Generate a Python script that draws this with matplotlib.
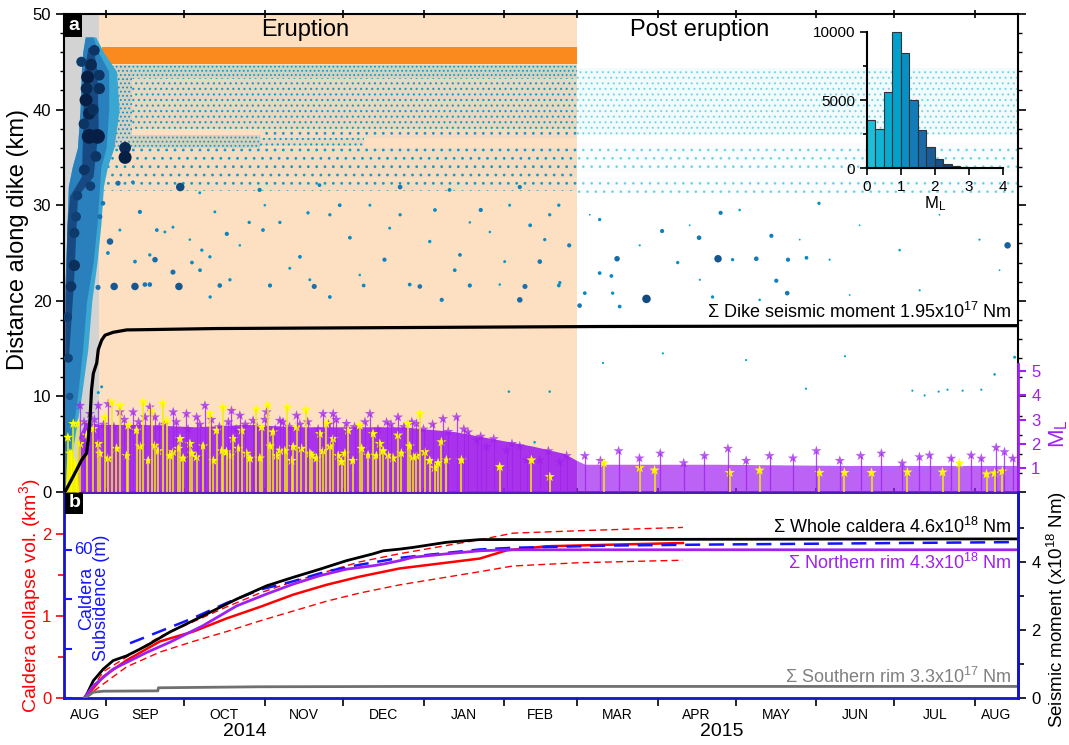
import numpy as np
import matplotlib.pyplot as plt
from matplotlib.colors import LinearSegmentedColormap, Normalize, to_rgba
from matplotlib.transforms import blended_transform_factory

plt.rcParams['font.family'] = ['Liberation Sans', 'DejaVu Sans']
plt.rcParams['mathtext.fontset'] = 'custom'
plt.rcParams['mathtext.rm'] = 'Liberation Sans'
plt.rcParams['mathtext.it'] = 'Liberation Sans:italic'
plt.rcParams['hatch.linewidth'] = 0.8

# time axis: days since 2014-08-16
T0 = np.datetime64('2014-08-16')
month_starts = ['2014-09-01', '2014-10-01', '2014-11-01', '2014-12-01',
                '2015-01-01', '2015-02-01', '2015-03-01', '2015-04-01',
                '2015-05-01', '2015-06-01', '2015-07-01', '2015-08-01']
month_names = ['AUG', 'SEP', 'OCT', 'NOV', 'DEC', 'JAN', 'FEB',
               'MAR', 'APR', 'MAY', 'JUN', 'JUL', 'AUG']
years = ['2014', '2015']
year_day = [69.3, 252.6]
x_end = 366.5
dike_end = 13.3
eruption_end = 197.0

# seismicity density bands (distance along dike)
band_day0 = [13.0, 26.0, 26.0, 13.0, 75.0, 14.0, 75.0, 14.0, 197.0, 197.0, 197.0]
band_day1 = [26.0, 197.0, 197.0, 75.0, 115.0, 197.0, 197.0, 197.0, 366.5, 366.5, 366.5]
band_km0 = [37.3, 43.3, 38.0, 36.0, 36.2, 32.8, 37.0, 31.5, 37.3, 33.5, 31.3]
band_km1 = [44.7, 44.7, 43.3, 37.3, 37.0, 36.0, 38.0, 32.5, 44.3, 36.5, 33.0]
band_density = [3, 3, 2, 3, 2, 1, 1, 1, 2, 1, 1]
band_ml = [1.2, 1.0, 1.0, 1.0, 1.0, 1.0, 1.0, 1.0, 0.3, 0.3, 0.3]

# dike intrusion cloud outline
cloud_km = [0, 5, 10, 15, 20, 24, 28, 32, 34, 36, 40, 44, 46, 47.6]
cloud_left = [0, 0, 0, 0, 0, 0.5, 1, 1.5, 3, 5, 6, 6.5, 7, 8]
cloud_right = [0.8, 2.5, 5, 7, 8.5, 11, 12.5, 13.5, 14, 16, 17, 17, 13, 11]
halo_right = [1.5, 3.5, 6.5, 9, 10.5, 12.5, 14, 15, 16.5, 19, 21, 20, 15, 12]
core_km = [14, 18, 22, 28, 31, 33, 38, 44, 46.5]
core_left = [0.2, 0.3, 0.5, 1, 2, 6.5, 7, 7.5, 9]
core_right = [1.5, 2.5, 3.5, 4.5, 5, 11, 13, 12.5, 11]

# individual events (day, distance km, ML)
dot_day = [9.5, 12.7, 8.9, 8.5, 8.3, 11.5, 13.4, 13.4, 7.6, 10.2, 9.5, 12.1, 4.5, 3.8,
           3.8, 1.1, 1.5, 2.0, 2.5, 5.0, 10.0, 6.5, 11.0, 7.5, 23.3, 23.3, 44.5,
           20.6, 26.3, 29.0, 17.5, 35.5, 41.7, 52.0, 62.4, 76.3, 93.6, 14.8, 13.6,
           19.1, 27.1, 44.0, 30.9, 32.8, 12.9, 16.7, 34.8, 41.7, 49.0, 52.8, 55.9,
           14.3, 13.0, 59.7, 79.0, 96.0, 115.0, 136.6, 155.8, 177.0, 190.0, 145.0,
           175.0, 102.0, 56.0, 90.5, 123.0, 152.0, 182.7, 194.0, 71.0, 105.8, 129.0,
           160.0, 179.0, 190.0, 75.0, 98.0, 129.0, 148.0, 175.0, 170.8, 180.7, 186.5,
           32.8, 38.6, 52.1, 67.4, 82.8, 86.6, 109.7, 113.5, 125.0, 140.4, 150.0,
           163.5, 169.2, 184.6, 57.8, 77.0, 102.0, 117.4, 142.4, 155.8, 171.1, 186.5,
           21.3, 27.1, 48.2, 63.6, 94.3, 132.7, 167.3, 190.4,
           223.7, 251.2, 212.4, 243.9, 252.2, 273.6, 277.8, 229.7, 271.7, 265.9, 278.1,
           210.2, 200.0, 198.0, 213.4, 290.0, 205.7, 205.7, 235.7, 256.8, 285.2, 249.1,
           210.7, 362.5, 325.9, 330.6, 336.0, 339.4, 345.2, 352.4, 357.5, 365.2, 207.0,
           230.0, 262.0, 300.0, 285.0, 201.9, 221.1, 240.3, 259.5, 282.6, 294.1, 305.6,
           321.0, 336.3, 351.7, 359.4, 244.2, 267.2, 301.8, 328.7]
dot_km = [37.2, 37.2, 43.4, 42.2, 41.0, 46.2, 42.2, 43.6, 33.7, 44.7, 39.6, 35.1, 28.8,
          27.1, 23.7, 18.3, 14.0, 10.0, 21.5, 31.0, 32.0, 45.0, 40.0, 38.5, 36.0, 35.0,
          31.9, 32.3, 32.4, 29.3, 26.2, 27.4, 27.7, 31.3, 27.0, 27.4, 29.2, 30.2, 28.8,
          21.5, 21.5, 21.5, 21.7, 21.7, 21.4, 25.0, 24.3, 23.0, 24.0, 25.3, 24.6, 11.0,
          10.4, 21.6, 21.6, 21.5, 21.6, 21.5, 21.6, 21.5, 21.6, 20.1, 20.1, 20.4, 20.4,
          24.6, 24.3, 24.8, 24.1, 25.8, 28.2, 30.0, 29.0, 29.5, 27.9, 30.0, 31.6, 32.1,
          31.9, 31.6, 31.9, 10.5, 5.2, 10.5,
          24.8, 27.2, 23.2, 25.8, 28.2, 23.4, 26.6, 22.7, 27.6, 26.2, 23.2, 27.2, 24.1,
          26.4, 29.3, 30.0, 29.0, 30.0, 29.5, 28.2, 30.0, 29.0, 27.4, 24.1, 26.4, 22.2,
          22.2, 21.7, 21.7, 21.9,
          20.2, 24.4, 24.4, 26.6, 29.2, 22.1, 20.8,
          27.3, 26.8, 24.4, 24.3, 22.6, 20.8, 19.5, 19.4, 30.2, 28.5, 22.9, 24.0, 24.3,
          24.5, 20.4, 20.8, 25.8, 10.6, 10.1, 10.5, 10.7, 10.6, 10.7, 12.3, 14.1, 13.5,
          14.5, 13.8, 14.2, 10.8, 29.0, 25.8, 27.9, 29.5, 26.4, 24.3, 27.9, 25.3, 29.0,
          26.4, 23.2, 22.2, 20.1, 20.6, 21.1]
dot_ml = [3.3, 3.3, 3.0, 2.8, 3.0, 2.6, 2.7, 2.6, 2.6, 2.8, 2.9, 2.6, 2.4, 2.5, 2.7,
          2.4, 2.3, 2.0, 2.6, 2.4, 2.4, 2.5, 2.7, 2.6, 2.8, 3.0, 2.2, 1.5, 1.2, 1.3, 1.8,
          1.2, 1.0, 1.0, 1.3, 1.2, 1.1, 1.4, 1.5, 2.0, 2.0, 2.0, 1.4, 1.4, 1.5, 1.2, 1.6,
          1.5, 1.2, 1.1, 1.1, 1.0, 1.0, 1.4, 1.3, 1.5, 1.2, 1.4, 1.3, 1.5, 1.2, 1.3, 1.6,
          1.2, 1.1, 1.2, 1.3, 1.2, 1.4, 1.3, 1.1, 1.2, 1.1, 1.3, 1.2, 1.1, 1.3, 1.2, 1.4,
          1.2, 1.3, 0.9, 0.9, 0.9,
          1.1, 1.0, 1.2, 0.9, 1.1, 1.0, 1.2, 0.9, 1.0, 1.1, 1.2, 0.9, 1.0, 1.1, 1.0, 0.9,
          1.1, 1.0, 1.2, 0.9, 1.0, 1.1, 1.0, 1.2, 0.9, 1.1, 1.0, 1.2, 0.9, 1.1,
          2.2, 2.0, 1.6, 1.4, 1.3, 1.3, 1.4, 1.3, 1.3, 1.4, 1.3,
          1.2, 1.2, 1.4, 1.2, 1.1, 1.1, 1.2, 1.1, 1.1, 1.2, 1.1, 1.1, 1.8, 0.8, 0.8, 0.8,
          0.8, 0.8, 0.8, 0.9, 1.0, 0.8, 0.8, 0.8, 0.8, 0.8, 0.7, 0.8, 0.7, 0.9, 0.7, 0.8,
          0.7, 0.9, 0.7, 0.8, 0.7, 0.8, 0.9, 0.7, 0.8]

# cumulative dike seismic moment (x1e17 Nm)
dike_day = [0.2, 4.0, 6.6, 8.5, 9.1, 9.8, 10.4, 11.1, 12.4, 13.0, 14.3, 15.6, 18.7,
            23.9, 34.8, 57.8, 205.7, 366.5]
dike_mo = [0, 0.22, 0.375, 0.454, 0.61, 0.844, 1.196, 1.39, 1.513, 1.67, 1.78, 1.838,
           1.872, 1.90, 1.905, 1.916, 1.94, 1.95]

# caldera earthquakes ML (stems)
env_day = [4.5, 5.5, 8, 14, 30, 50, 70, 90, 110, 130, 150, 165, 180, 192, 197, 200,
           250, 300, 366.5]
env_ml = [0, 2.3, 2.9, 2.8, 2.8, 2.7, 2.8, 2.7, 2.7, 2.7, 2.5, 2.2, 1.9, 1.6, 1.3, 1.15,
          1.15, 1.1, 1.1]
yel_env_day = [0.3, 0.8, 2.5, 4.5, 5.5]
yel_env_ml = [0, 1.4, 1.8, 1.2, 0]
purple_day = [6.0, 9.8, 13.0, 16.8, 21.3, 26.4, 32.8, 34.8, 41.8, 46.9, 50.8, 54.0,
              64.2, 67.4, 72.5, 77.7, 82.8, 89.2, 99.4, 103.3, 108.4, 117.4, 123.8,
              128.2, 135.3, 145.5, 150.7, 155.1, 158.4, 162.2, 169.9, 177.6, 182.7,
              190.4, 7.5, 11.5, 15, 19, 23, 25, 28.5, 31, 36.5, 38.5, 43, 47.5, 52,
              56.5, 59.5, 63, 66, 69.5, 74, 77, 81, 84, 86.5, 90.5, 93.5, 97.5, 101.5,
              104.5, 111.5, 115.5, 120.5, 125.5, 130.5, 133.5, 138, 141.5, 147.5,
              153.5, 160, 165, 172, 175, 186, 193, 200, 206, 213, 221, 229, 238, 246,
              255, 262, 271, 280, 289, 298, 306, 314, 322, 328.6, 332.5, 340.8, 348.5,
              352.4, 358.1, 361.3, 364.5]
purple_ml = [3.58, 3.24, 3.58, 3.65, 3.31, 3.31, 3.51, 3.10, 3.31, 3.24, 3.10, 3.58,
             3.37, 3.17, 2.96, 3.31, 2.96, 3.17, 3.24, 3.24, 2.83, 3.24, 2.89, 3.10,
             2.83, 3.03, 3.10, 2.48, 2.14, 1.87, 1.73, 1.32, 1.32, 1.25, 2.9, 3.0, 2.8,
             2.7, 3.0, 2.6, 2.9, 3.1, 2.7, 2.8, 2.9, 2.6, 2.8, 3.0, 2.7, 2.9, 2.6, 2.8,
             2.7, 3.0, 2.6, 2.9, 2.7, 2.8, 2.9, 2.6, 2.8, 3.0, 2.7, 2.9, 2.6, 2.8, 2.7,
             2.9, 2.6, 2.8, 2.5, 2.6, 2.3, 2.2, 2.0, 1.9, 1.7, 1.5, 1.5, 1.3, 1.7, 1.4,
             1.6, 1.2, 1.5, 1.8, 1.3, 1.5, 1.4, 1.7, 1.3, 1.5, 1.6, 1.19, 1.45, 1.52,
             1.39, 1.52, 1.39, 1.84, 1.66, 1.39]
yellow_day = [3.4, 8.5, 11.1, 13.0, 15.6, 18.1, 21.3, 24.5, 27.7, 30.3, 33.5, 34.8,
              37.7, 39.3, 41.8, 44.4, 48.2, 50.8, 55.9, 58.5, 61.0, 62.3, 64.8, 68.1,
              71.3, 73.8, 75.8, 78.1, 80.2, 82.8, 85.7, 87.9, 89.2, 92.8, 95.0, 98.2,
              100.7, 103.3, 106.5, 109.0, 113.5, 116.7, 118.6, 121.2, 124.4, 128.2,
              132.1, 134.0, 136.6, 138.5, 142.3, 144.9, 146.8, 152.6, 167.3, 179.5,
              186.5, 13.6, 16.8, 20.0, 23.9, 29.0, 32.2, 36.0, 40.5, 43.7, 45.6, 48.9,
              53.3, 57.2, 60.4, 63.6, 66.8, 70.0, 75.1, 79.0, 81.5, 84.7, 87.3, 91.1,
              94.3, 96.9, 99.4, 102.0, 105.2, 107.8, 110.9, 114.2, 119.9, 122.5, 126.3,
              129.5, 132.7, 135.3, 140.4, 143.6, 1.3, 5.3, 2.1, 6.0, 4.0, 207.3, 221.1,
              226.8, 255.7, 267.2, 290.2, 299.8, 310.2, 324.0, 337.5, 344.0, 354.4,
              357.5, 360.5]
yellow_ml = [2.83, 2.35, 2.62, 2.0, 3.1, 3.72, 3.58, 2.76, 2.55, 3.72, 3.37, 1.93, 3.68,
             2.96, 1.66, 2.21, 2.0, 1.45, 3.24, 2.55, 3.51, 1.66, 2.21, 2.55, 1.39, 3.44,
             2.69, 3.62, 2.48, 1.73, 3.51, 1.87, 2.69, 3.40, 1.52, 2.41, 2.83, 2.21,
             1.25, 2.55, 2.76, 1.52, 2.41, 2.0, 1.52, 2.35, 2.83, 1.45, 3.24, 1.66, 1.0,
             2.07, 1.32, 1.32, 1.04, 1.32, 0.63, 1.6, 1.4, 1.8, 1.5, 1.9, 1.3, 1.7, 1.5,
             1.8, 1.4, 1.6, 1.9, 1.3, 1.7, 1.5, 1.8, 1.6, 1.4, 1.9, 1.5, 1.7, 1.3, 1.8,
             1.6, 1.4, 1.7, 1.9, 1.5, 1.6, 1.3, 1.8, 1.5, 1.7, 1.4, 1.6, 1.9, 1.5, 1.3,
             1.2, 2.26, 2.84, 1.6, 2.0, 0.78, 1.2, 1.0, 0.9, 0.8, 0.9, 0.8, 0.8, 0.8,
             0.82, 0.82, 1.19, 0.74, 0.78, 0.86]

# ML histogram (inset)
hist_left = [0, 0.25, 0.5, 0.75, 1.0, 1.25, 1.5, 1.75, 2.0, 2.25, 2.5, 2.75, 3.0]
hist_count = [3540, 2850, 5610, 10000, 8460, 5000, 2800, 1540, 680, 290, 170, 70, 20]

# panel b: caldera
cal_day = [7.9, 11.1, 14.9, 18.7, 23.9, 31.6, 40.5, 53.3, 66.2, 77.7, 87.9, 98.2, 108.4,
           118.6, 122.5, 128.9, 134.0, 146.8, 159.6, 366.5]
cal_mo = [0, 0.51, 0.85, 1.10, 1.24, 1.54, 1.94, 2.42, 2.91, 3.30, 3.55, 3.79, 4.04,
          4.24, 4.33, 4.38, 4.43, 4.58, 4.66, 4.68]
north_day = [7.5, 11.1, 18.7, 31.6, 40.5, 53.3, 66.2, 77.7, 87.9, 98.2, 108.4, 118.6,
             122.5, 128.9, 134.0, 146.8, 159.6, 169.9, 366.5]
north_mo = [0, 0.36, 0.85, 1.34, 1.64, 2.13, 2.71, 3.06, 3.35, 3.60, 3.79, 3.89, 3.94,
            4.04, 4.14, 4.24, 4.33, 4.36, 4.36]
south_day = [7.9, 11.1, 14.9, 35.9, 36.1, 75.0, 130.0, 366.5]
south_mo = [0, 0.17, 0.20, 0.21, 0.30, 0.33, 0.34, 0.34]
vol_day = [7.9, 11.1, 14.9, 23.9, 36.7, 49.5, 62.3, 75.1, 87.9, 100.7, 113.5, 128.9,
           134.0, 159.6, 169.9, 185.2, 210.7, 237.7]
vol_mid = [0, 0.12, 0.26, 0.46, 0.69, 0.81, 0.97, 1.11, 1.26, 1.38, 1.48, 1.58, 1.60,
           1.70, 1.80, 1.85, 1.87, 1.89]
volb_day = [7.9, 11.1, 14.9, 23.9, 36.7, 49.5, 62.3, 75.1, 87.9, 100.7, 113.5, 128.9,
            159.6, 172.4, 198.0, 237.7]
vol_hi = [0, 0.14, 0.32, 0.50, 0.75, 0.93, 1.11, 1.28, 1.42, 1.54, 1.66, 1.76, 1.93,
          2.01, 2.04, 2.08]
vol_lo = [0, 0.08, 0.17, 0.38, 0.56, 0.69, 0.81, 0.94, 1.06, 1.18, 1.28, 1.38, 1.54,
          1.61, 1.65, 1.68]
sub_day = [25.2, 36.7, 49.5, 62.3, 75.1, 87.9, 100.7, 113.5, 128.9, 134.0, 159.6, 172.4,
           210.7, 249.1, 366.5]
sub_m = [22.2, 27.0, 32.4, 38.5, 43.9, 47.3, 51.3, 54.0, 56.8, 57.4, 60.2, 60.9, 61.8,
         62.2, 63.2]

purple = '#a020f0'
yellow = '#ffff00'
bblue = '#1414c8'
sblue = '#1414ff'
ml_cmap = LinearSegmentedColormap.from_list('ml', [
    (0.0, '#22c4d8'), (0.17, '#08b0d2'), (0.3, '#00a0cc'), (0.4, '#0a8ac4'),
    (0.5, '#1a70ae'), (0.67, '#17568f'), (0.83, '#0d3a6c'), (1.0, '#081f45')])
ml_norm = Normalize(0, 3)
ML_TXT = r'$\mathrm{M}_\mathrm{L}$'

mdays = (np.array(month_starts, dtype='datetime64[D]') - T0).astype(float)
edges = np.concatenate([[0], mdays, [x_end]])
mids = (edges[:-1] + edges[1:]) / 2

fig = plt.figure(figsize=(10.69, 7.45), dpi=100)
ax_a = fig.add_axes([0.0603, 0.3396, 0.8920, 0.6416])
ax_b = fig.add_axes([0.0603, 0.0631, 0.8920, 0.2765])
ax_ml = ax_a.twinx()
ax_dm = ax_a.twinx()
ax_bs = ax_b.twinx()
ax_bm = ax_b.twinx()

# ---------- panel a ----------
ax_a.axvspan(0, dike_end, color='#d3d3d3', lw=0, zorder=0)
ax_a.axvspan(dike_end, eruption_end, color='#fddfc1', lw=0, zorder=0)
ax_a.fill_between([14.5, eruption_end], 44.8, 46.6, color='#fb8a1e', lw=0, zorder=1)

hatch_for = {1: '..', 2: '...', 3: '....'}
tint_for = {1: 0.04, 2: 0.09, 3: 0.16}
for d0, d1, k0, k1, dens, ml in zip(band_day0, band_day1, band_km0, band_km1,
                                     band_density, band_ml):
    post = d0 >= eruption_end
    col = ml_cmap(ml_norm(ml))
    ax_a.fill_between([d0, d1], k0, k1, color=col,
                      alpha=tint_for[dens] * (0.6 if post else 1.0), lw=0, zorder=1.5)
    ax_a.fill_between([d0, d1], k0, k1, facecolor='none',
                      edgecolor=to_rgba(col, 0.45 if post else 0.9),
                      hatch=hatch_for[dens], linewidth=0, zorder=2)

ax_a.fill_betweenx(cloud_km, cloud_left, halo_right, color='#3aa6d2', lw=0, zorder=2.4)
ax_a.fill_betweenx(cloud_km, cloud_left, cloud_right, color='#2a80bc', lw=0, zorder=2.5)
ax_a.fill_betweenx(core_km, core_left, core_right, color='#174a82', lw=0, zorder=2.6)

dml = np.array(dot_ml)
ax_a.scatter(dot_day, dot_km, s=4.5 * dml ** 2.7, c=dml, cmap=ml_cmap, norm=ml_norm,
             edgecolors='none', zorder=3)

ax_a.set_xlim(0, x_end)
ax_a.set_ylim(0, 50)
ax_a.set_yticks(range(0, 51, 10))
ax_a.set_yticks(range(0, 51, 2), minor=True)
ax_a.tick_params(axis='y', which='both', left=True, right=True, direction='out',
                 labelsize=12, labelright=False)
ax_a.tick_params(axis='y', which='major', length=6, width=1.2)
ax_a.tick_params(axis='y', which='minor', length=3, width=1)
ax_a.set_xticks(mdays)
ax_a.tick_params(axis='x', top=True, bottom=True, labelbottom=False, labeltop=False,
                 length=6, width=1.2, direction='inout')
for s in ['top', 'left', 'right']:
    ax_a.spines[s].set_linewidth(1.5)
ax_a.spines['bottom'].set_visible(False)
ax_a.set_ylabel('Distance along dike (km)', fontsize=17)
ax_a.yaxis.set_label_coords(-0.037, 0.529)
ax_a.text(92.4, 48.3, 'Eruption', ha='center', va='center', fontsize=17, zorder=5)
ax_a.text(244, 48.3, 'Post eruption', ha='center', va='center', fontsize=17, zorder=5)
ax_a.text(0.004, 0.993, 'a', transform=ax_a.transAxes, ha='left', va='top',
          color='white', fontweight='bold', fontsize=14, zorder=6,
          bbox=dict(boxstyle='square,pad=0.15', fc='black', ec='none'))

# ML stems
env_d = np.array(env_day)
ax_ml.fill_between(env_day, 0, env_ml, where=env_d <= eruption_end,
                   color=purple, alpha=0.9, lw=0)
ax_ml.fill_between(env_day, 0, env_ml, where=env_d >= eruption_end,
                   color=purple, alpha=0.7, lw=0)
ax_ml.fill_between(yel_env_day, 0, yel_env_ml, color=yellow, lw=0)
ax_ml.vlines(purple_day, 0, purple_ml, color=purple, lw=0.9, alpha=0.8)
ax_ml.scatter(purple_day, purple_ml, marker='*', s=60, color=purple, alpha=0.75,
              edgecolors='none')
ax_ml.vlines(yellow_day, 0, yellow_ml, color='#f2ee00', lw=1.1)
ax_ml.scatter(yellow_day, yellow_ml, marker='*', s=60, color=yellow, edgecolors='none')
ax_ml.set_ylim(0, 19.8)
ax_ml.set_yticks([1, 2, 3, 4, 5])
ax_ml.tick_params(axis='y', colors=purple, labelsize=12, length=6, width=1.5)
for s in ['top', 'left', 'bottom']:
    ax_ml.spines[s].set_visible(False)
ax_ml.spines['right'].set_color(purple)
ax_ml.spines['right'].set_linewidth(2)
ax_ml.spines['right'].set_bounds(0, 5.3)
ax_ml.set_ylabel(ML_TXT, color=purple, fontsize=16, rotation=90)
ax_ml.yaxis.set_label_coords(1.031, 0.123)

# dike cumulative moment
ax_dm.plot(dike_day, dike_mo, color='black', lw=2.3)
ax_dm.set_ylim(0, 1.95 * 50 / 17.4)
ax_dm.set_yticks([])
for s in ax_dm.spines.values():
    s.set_visible(False)
ax_dm.text(364, 1.99, r'$\Sigma$ Dike seismic moment 1.95x10$^{17}$ Nm', ha='right',
           va='bottom', fontsize=13)

# ---------- panel b ----------
ax_b.plot(vol_day, vol_mid, color='red', lw=1.8, zorder=3)
ax_b.plot(volb_day, vol_hi, color='red', lw=1, dashes=(5, 3), zorder=3)
ax_b.plot(volb_day, vol_lo, color='red', lw=1, dashes=(5, 3), zorder=3)
ax_b.set_xlim(0, x_end)
ax_b.set_ylim(0, 2.512)
ax_b.set_yticks([0, 1, 2])
ax_b.set_yticks([0.5, 1.5], minor=True)
ax_b.tick_params(axis='y', which='both', colors='red', labelsize=12, direction='out')
ax_b.tick_params(axis='y', which='major', length=6, width=1.2)
ax_b.tick_params(axis='y', which='minor', length=4, width=1.2)
ax_b.set_xticks(mdays)
ax_b.set_xticks(mids, minor=True)
ax_b.set_xticklabels([])
ax_b.set_xticklabels(month_names, minor=True)
ax_b.tick_params(axis='x', which='major', length=6, width=1.2, direction='out',
                 colors='black')
ax_b.tick_params(axis='x', which='minor', length=0, labelsize=10, pad=7)
for s in ax_b.spines.values():
    s.set_color(bblue)
    s.set_linewidth(2)
ax_b.spines['top'].set_color('#1a1a8c')
ax_b.set_ylabel('Caldera collapse vol. (km$^3$)', color='red', fontsize=14)
ax_b.yaxis.set_label_coords(-0.0225, 0.495)
tr = blended_transform_factory(ax_b.transData, ax_b.transAxes)
for yd, yr in zip(year_day, years):
    ax_b.text(yd, -0.165, yr, transform=tr, ha='center', va='center', fontsize=14)
ax_b.text(0.004, 0.99, 'b', transform=ax_b.transAxes, ha='left', va='top',
          color='white', fontweight='bold', fontsize=14, zorder=6,
          bbox=dict(boxstyle='square,pad=0.15', fc='black', ec='none'))

ax_bs.plot(sub_day, sub_m, color=sblue, lw=1.8, dashes=(6, 3.5))
ax_bs.set_ylim(0, 83.5)
ax_bs.yaxis.tick_left()
ax_bs.set_yticks([0, 20, 40, 60])
ax_bs.tick_params(axis='y', direction='in', colors=sblue, length=6, width=1.5,
                  labelleft=False, labelright=False)
for s in ax_bs.spines.values():
    s.set_visible(False)
ax_bs.text(3.6, 60, '60', color=sblue, ha='left', va='center', fontsize=12)
ax_bs.text(8.5, 40.5, 'Caldera', color=sblue, rotation=90,
           ha='center', va='center', fontsize=13)
ax_bs.text(14.3, 40.5, 'Subsidence (m)', color=sblue, rotation=90,
           ha='center', va='center', fontsize=13)

ax_bm.plot(cal_day, cal_mo, color='black', lw=2)
ax_bm.plot(north_day, north_mo, color=purple, lw=2)
ax_bm.plot(south_day, south_mo, color='#707070', lw=2)
ax_bm.set_ylim(0, 6.06)
ax_bm.set_yticks([0, 2, 4])
ax_bm.set_yticks([1, 3, 5], minor=True)
ax_bm.tick_params(axis='y', which='both', colors='black', labelsize=12, direction='out')
ax_bm.tick_params(axis='y', which='major', length=6, width=1.2)
ax_bm.tick_params(axis='y', which='minor', length=4, width=1.2)
for s in ['top', 'left', 'bottom']:
    ax_bm.spines[s].set_visible(False)
ax_bm.spines['right'].set_color(bblue)
ax_bm.spines['right'].set_linewidth(2)
ax_bm.set_ylabel('Seismic moment (x10$^{18}$ Nm)', fontsize=13.5, rotation=90)
ax_bm.yaxis.set_label_coords(1.028, 0.43)
ax_bm.text(364, 5.03, r'$\Sigma$ Whole caldera 4.6x10$^{18}$ Nm', ha='right',
           va='center', fontsize=13)
ax_bm.text(364, 3.97, r'$\Sigma$ Northern rim 4.3x10$^{18}$ Nm', ha='right',
           va='center', fontsize=13, color=purple)
ax_bm.text(364, 0.62, r'$\Sigma$ Southern rim 3.3x10$^{17}$ Nm', ha='right',
           va='center', fontsize=13, color='#808080')

# ---------- inset histogram ----------
ax_h = fig.add_axes([0.811, 0.774, 0.1272, 0.1834])
ax_h.patch.set_visible(False)
hcol = [ml_cmap(ml_norm(v + 0.125)) for v in hist_left]
ax_h.bar(hist_left, hist_count, width=0.25, align='edge', color=hcol,
         edgecolor='#333333', linewidth=0.8, clip_on=False)
ax_h.set_xlim(0, 4)
ax_h.set_ylim(0, 10000)
ax_h.set_xticks([0, 1, 2, 3, 4])
ax_h.set_yticks([0, 5000, 10000])
ax_h.set_yticks([2500, 7500], minor=True)
ax_h.tick_params(which='both', labelsize=11, direction='out', width=1.2)
ax_h.tick_params(which='major', length=5)
ax_h.tick_params(which='minor', length=3)
for s in ['top', 'right']:
    ax_h.spines[s].set_visible(False)
for s in ['left', 'bottom']:
    ax_h.spines[s].set_linewidth(1.5)
ax_h.set_xlabel(ML_TXT, fontsize=12, labelpad=0)

fig.savefig('out.png', dpi=100, facecolor='white')
